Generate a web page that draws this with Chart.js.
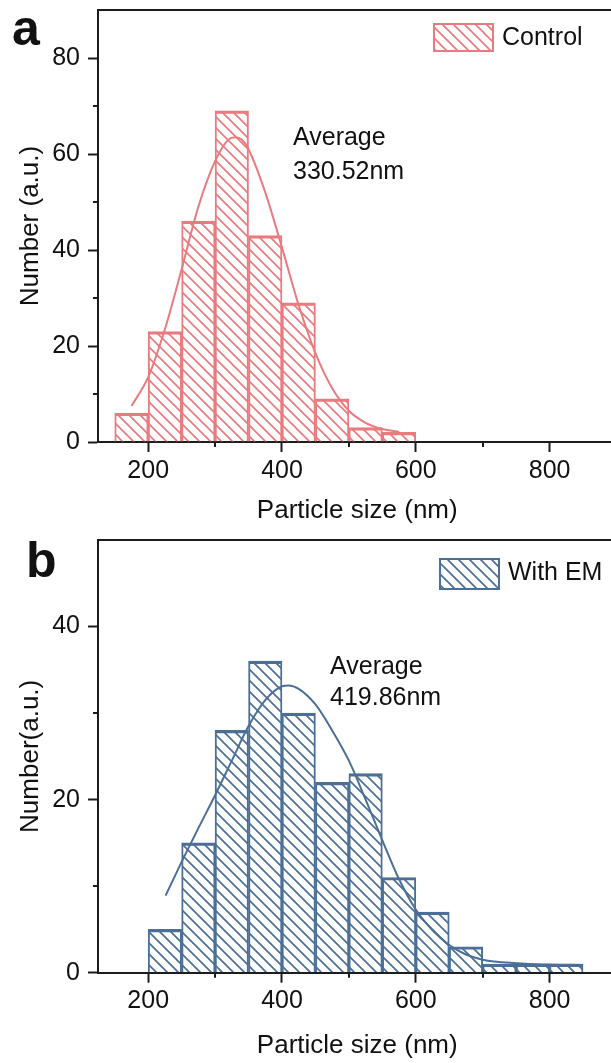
<!DOCTYPE html>
<html><head><meta charset="utf-8">
<script src="https://cdn.jsdelivr.net/npm/chart.js@4.4.1/dist/chart.umd.min.js"></script>
<style>
html,body{margin:0;padding:0;background:#fff;overflow:hidden;width:611px;height:1063px;}
#wrap{position:relative;width:611px;height:1063px;overflow:hidden;background:#fff;}
canvas{position:absolute;left:0;}
#ca{top:0;} #cb{top:530px;}
</style></head><body>
<div id="wrap">
<canvas id="ca" width="640" height="530"></canvas>
<canvas id="cb" width="640" height="533"></canvas>
</div>
<script>
// ---- data ----
const controlBinCenters = [175, 225, 275, 325, 375, 425, 475, 525, 575];
const controlCounts     = [6, 23, 46, 69, 43, 29, 9, 3, 2];
const controlFitX = [175, 200, 225, 250, 275, 300, 320, 330, 340, 350, 375, 400, 425, 450, 475, 500, 525, 550, 575];
const controlFitY = [7.5, 13.5, 23.5, 36, 49, 58.5, 63, 63.5, 63, 61, 52, 40.5, 28.5, 18.5, 11.2, 6.5, 4, 2.7, 2.1];

const emBinCenters = [225, 275, 325, 375, 425, 475, 525, 575, 625, 675, 725, 775, 825];
const emCounts     = [5, 15, 28, 36, 30, 22, 23, 11, 7, 3, 1, 1, 1];
const emFitX = [226, 250, 275, 300, 325, 350, 375, 400, 410, 425, 450, 475, 500, 525, 550, 575, 600, 625, 650, 675, 700, 750, 800, 850];
const emFitY = [8.9, 12.8, 16.7, 20.5, 24.5, 28.5, 31.5, 33.1, 33.2, 32.8, 31, 28, 24.5, 20, 15.3, 10.8, 7.3, 4.9, 3.2, 2.1, 1.5, 1.1, 0.95, 0.9];

const xTickValues = [200, 400, 600, 800];
const xMinorTicks = [300, 500, 700];
const yTicksA = [0, 20, 40, 60, 80];
const yMinorA = [10, 30, 50, 70];
const yTicksB = [0, 20, 40];
const yMinorB = [10, 30];

const FONT = "'Liberation Sans', Arial, Helvetica, sans-serif";
const AXIS = '#1c1c1c';
const TXT = '#111';
const PINK = '#E97A7E';
const BLUE = '#4B6F97';

function hatch(color) {
  const s = 11;
  const c = document.createElement('canvas');
  c.width = s; c.height = s;
  const g = c.getContext('2d');
  g.strokeStyle = color; g.lineWidth = 1.7; g.lineCap = 'square';
  g.beginPath();
  g.moveTo(0, 0); g.lineTo(s, s);
  g.moveTo(-2, s - 2); g.lineTo(2, s + 2);
  g.moveTo(s - 2, -2); g.lineTo(s + 2, 2);
  g.stroke();
  return g.createPattern(c, 'repeat');
}

const extras = {
  id: 'extras',
  afterDraw(chart, args, o) {
    const {ctx, chartArea: ca, scales: {x, y}} = chart;
    ctx.save();
    ctx.strokeStyle = AXIS; ctx.lineWidth = 2;
    ctx.beginPath();
    ctx.moveTo(ca.left - 1, ca.top); ctx.lineTo(ca.right, ca.top);
    ctx.stroke();
    ctx.beginPath();
    o.xMinor.forEach(v => { const px = Math.round(x.getPixelForValue(v)); ctx.moveTo(px, ca.bottom); ctx.lineTo(px, ca.bottom + 5); });
    o.yMinor.forEach(v => { const py = Math.round(y.getPixelForValue(v)); ctx.moveTo(ca.left, py); ctx.lineTo(ca.left - 5, py); });
    ctx.stroke();
    // legend
    const ds = chart.data.datasets[1];
    const b = o.legendBox;
    ctx.fillStyle = ds.backgroundColor;
    ctx.fillRect(b[0], b[1], b[2], b[3]);
    ctx.strokeStyle = ds.borderColor; ctx.lineWidth = 2;
    ctx.strokeRect(b[0], b[1], b[2], b[3]);
    ctx.fillStyle = TXT;
    ctx.font = '25px ' + FONT;
    ctx.textBaseline = 'middle'; ctx.textAlign = 'left';
    ctx.fillText(ds.label, o.legendText[0], o.legendText[1]);
    // annotation
    o.avgLines.forEach((t, i) => ctx.fillText(t, o.avgPos[0], o.avgPos[1] + i * o.avgPos[2]));
    // panel letter
    ctx.font = 'bold 50px ' + FONT;
    ctx.textBaseline = 'alphabetic';
    ctx.fillText(o.letter, o.letterPos[0], o.letterPos[1]);
    ctx.restore();
  }
};

function makePanel(id, cfg) {
  const canvas = document.getElementById(id);
  const H = canvas.height;
  const pat = hatch(cfg.color);
  new Chart(canvas, {
    type: 'bar',
    data: {
      datasets: [
        { type: 'line', label: 'fit', data: cfg.fitX.map((v, i) => ({x: v, y: cfg.fitY[i]})),
          borderColor: cfg.color, borderWidth: 2, pointRadius: 0, fill: false,
          cubicInterpolationMode: 'monotone', order: 0 },
        { type: 'bar', label: cfg.name, data: cfg.centers.map((v, i) => ({x: v, y: cfg.counts[i]})),
          backgroundColor: pat, borderColor: cfg.color,
          borderWidth: {top: 2.5, left: 1.3, right: 1.3, bottom: 0}, borderSkipped: false,
          barPercentage: 1, categoryPercentage: 1, order: 1 }
      ]
    },
    options: {
      responsive: false, animation: false, devicePixelRatio: 1,
      layout: { padding: { left: 0, top: 10, right: 640 - 616.5, bottom: 0 } },
      plugins: {
        legend: { display: false }, tooltip: { enabled: false },
        extras: cfg.extras
      },
      scales: {
        x: {
          type: 'linear', min: 125, max: 900, offset: false,
          afterBuildTicks: s => { s.ticks = xTickValues.map(v => ({value: v})); },
          afterFit: s => { s.height = H - cfg.bottom; s.paddingLeft = 0; s.paddingRight = 0; },
          ticks: { font: {family: FONT, size: 25}, color: TXT, padding: cfg.xPad, maxRotation: 0, autoSkip: false },
          grid: { display: true, offset: false, drawOnChartArea: false, drawTicks: true, tickLength: 10, tickWidth: 2, tickColor: AXIS },
          border: { display: true, color: AXIS, width: 2 },
          title: { display: true, text: 'Particle size (nm)', font: {family: FONT, size: 26}, color: TXT, padding: {top: 0, bottom: cfg.xTitlePad} }
        },
        y: {
          min: 0, max: cfg.yMax,
          afterBuildTicks: s => { s.ticks = cfg.yTicks.map(v => ({value: v})); },
          afterFit: s => { s.width = 98; s.paddingTop = 0; s.paddingBottom = 0; },
          ticks: { font: {family: FONT, size: 25}, color: TXT, padding: 8 },
          grid: { display: true, drawOnChartArea: false, drawTicks: true, tickLength: 10, tickWidth: 2, tickColor: AXIS },
          border: { display: true, color: AXIS, width: 2 },
          title: { display: true, text: cfg.yTitle, font: {family: FONT, size: 26}, color: TXT, padding: {top: 15, bottom: 0} }
        }
      }
    },
    plugins: [extras]
  });
}

makePanel('ca', {
  name: 'Control', color: PINK, centers: controlBinCenters, counts: controlCounts,
  fitX: controlFitX, fitY: controlFitY, yMax: 90, yTicks: yTicksA, bottom: 442,
  xPad: 4, xTitlePad: 4, yTitle: 'Number (a.u.)',
  extras: { xMinor: xMinorTicks, yMinor: yMinorA, legendBox: [434, 24, 59, 27], legendText: [502, 38],
            avgLines: ['Average', '330.52nm'], avgPos: [293, 138, 34], letter: 'a', letterPos: [12, 45] }
});
makePanel('cb', {
  name: 'With EM', color: BLUE, centers: emBinCenters, counts: emCounts,
  fitX: emFitX, fitY: emFitY, yMax: 50, yTicks: yTicksB, bottom: 442.7,
  xPad: 3, xTitlePad: 2, yTitle: 'Number(a.u.)',
  extras: { xMinor: xMinorTicks, yMinor: yMinorB, legendBox: [440, 29, 59, 30], legendText: [508, 43.5],
            avgLines: ['Average', '419.86nm'], avgPos: [330, 137, 31], letter: 'b', letterPos: [26, 47] }
});
</script>
</body></html>
